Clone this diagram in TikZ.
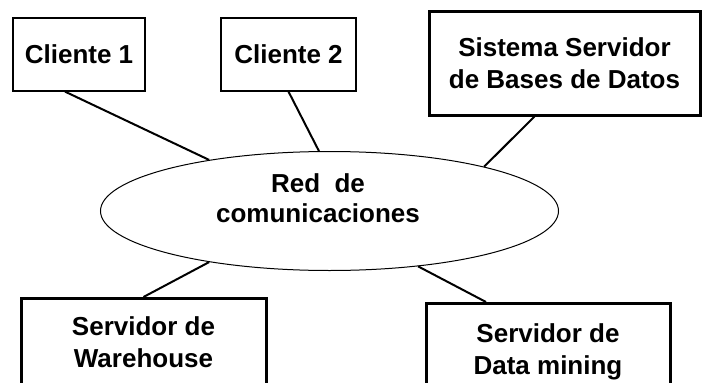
\documentclass[tikz,border=0pt]{standalone}
\usepackage{fontspec}
\setmainfont{Liberation Sans}
\usetikzlibrary{shapes.geometric}
\tikzset{>=stealth,
    caja/.style={draw, line width=1.2pt, font=\bfseries\fontsize{26}{32}\selectfont, align=center, inner sep=0pt},
    cajagruesa/.style={caja, line width=3pt},
    enlace/.style={line width=2pt}}

\begin{document}
\begin{tikzpicture}[x=1pt,y=-1pt]
    \useasboundingbox (0,0) rectangle (702,383);
    \clip (0,0) rectangle (702,383);
    \node[draw, ellipse, line width=1pt, minimum width=458pt, minimum height=119pt] (red) at (329.5,211) {};
    \node[caja, draw=none, font=\bfseries\fontsize{26}{30}\selectfont] (redtxt) at (318,198) {Red\ \ de\\comunicaciones};
    \node[caja, minimum width=132pt, minimum height=73pt] (c1) at (79,54.5) {Cliente 1};
    \node[caja, minimum width=135pt, minimum height=73pt] (c2) at (288.5,54.5) {Cliente 2};
    \node[cajagruesa, minimum width=271pt, minimum height=104pt] (sbd) at (564.5,63) {Sistema Servidor\\de Bases de Datos};
    \node[cajagruesa, anchor=north, minimum width=245pt, minimum height=88pt] (wh) at (143.5,297) {Servidor de\\Warehouse};
    \node[cajagruesa, anchor=north, minimum width=244pt, minimum height=96pt] (dm) at (548,302) {Servidor de\\Data mining};
    \draw[enlace] ([xshift=-14pt]c1.south) -- (red.157);
    \draw[enlace] (c2.south) -- (red.100);
    \draw[enlace] ([xshift=-30pt]sbd.south) -- (red.16);
    \draw[enlace] (wh.north) -- (red.203);
    \draw[enlace] ([xshift=-62pt]dm.north) -- (red.328);
\end{tikzpicture}
\end{document}
